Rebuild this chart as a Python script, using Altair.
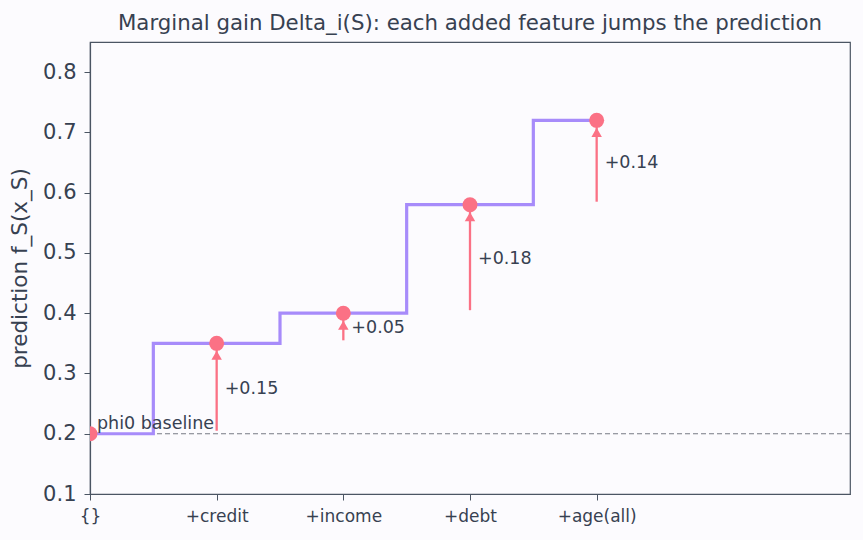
import altair as alt
import pandas as pd

steps = ["{}", "+credit", "+income", "+debt", "+age(all)"]
step_idx = [0, 1, 2, 3, 4]
preds = [0.20, 0.35, 0.40, 0.58, 0.72]
gain_idx = [1, 2, 3, 4]
gain_prev = [0.20, 0.35, 0.40, 0.58]
gain_labels = ["+0.15", "+0.05", "+0.18", "+0.14"]
baseline = 0.20
baseline_label = "phi0 baseline"

FONT = "DejaVu Sans"
TXT = "#374151"
AX = "#4b5563"
PURPLE = "#a78bfa"
ROSE = "#fb7185"

pts = pd.DataFrame({"x": step_idx, "label": steps, "y": preds})
gains = pd.DataFrame({"x": gain_idx, "prev": gain_prev,
                      "cur": preds[1:], "lab": gain_labels})
base_df = pd.DataFrame({"y": [baseline], "x": [0], "t": [baseline_label]})

label_expr = "[" + ",".join("'%s'" % s for s in steps) + "][datum.value]"

xscale = alt.Scale(domain=[0, 6], nice=False, zero=False)
yscale = alt.Scale(domain=[0.1, 0.85], nice=False, zero=False)

xax = alt.Axis(values=step_idx, labelExpr=label_expr, title=None, grid=False,
               labelFontSize=17, labelColor=TXT, domainColor=AX, tickColor=AX,
               labelFont=FONT, tickSize=6, labelPadding=8, domainWidth=1.2,
               labelFlush=False)
yax = alt.Axis(values=[0.1, 0.2, 0.3, 0.4, 0.5, 0.6, 0.7, 0.8], format=".1f",
               title="prediction f_S(x_S)", grid=False, labelFontSize=21,
               labelColor=TXT, titleColor=TXT, titleFontSize=21.5,
               titleFontWeight="normal", titleFont=FONT, labelFont=FONT,
               domainColor=AX, tickColor=AX, tickSize=6, titlePadding=11,
               labelPadding=8, domainWidth=1.2, labelFlush=False)

base = alt.Chart(pts)

dash = alt.Chart(base_df).mark_rule(color="#777b85", strokeDash=[5, 3],
                                    strokeWidth=1.2).encode(
    y=alt.Y("y:Q", scale=yscale, axis=yax))

base_txt = alt.Chart(base_df).mark_text(align="left", baseline="bottom", dx=7,
                                        dy=-1, fontSize=17.5, font=FONT,
                                        color=TXT).encode(
    x=alt.X("x:Q", scale=xscale, axis=xax), y=alt.Y("y:Q", scale=yscale),
    text="t:N")

line = base.mark_line(interpolate="step", color=PURPLE, strokeWidth=3.2).encode(
    x=alt.X("x:Q", scale=xscale, axis=xax),
    y=alt.Y("y:Q", scale=yscale, axis=yax))

arrows = alt.Chart(gains).transform_calculate(
    start="datum.prev + 0.005").mark_rule(color=ROSE, strokeWidth=2.3).encode(
    x=alt.X("x:Q", scale=xscale), y=alt.Y("start:Q", scale=yscale),
    y2="cur:Q")

heads = alt.Chart(gains).mark_point(shape="triangle-up", filled=True,
                                    opacity=1, size=110, color=ROSE,
                                    yOffset=12).encode(
    x=alt.X("x:Q", scale=xscale), y=alt.Y("cur:Q", scale=yscale))

dots = base.mark_point(filled=True, opacity=1, size=225, color=ROSE,
                       clip=True).encode(
    x=alt.X("x:Q", scale=xscale), y=alt.Y("y:Q", scale=yscale))

labels = alt.Chart(gains).transform_calculate(
    mid="(datum.prev + datum.cur) / 2").mark_text(
    align="left", baseline="middle", dx=8, fontSize=17.5, font=FONT,
    color=TXT).encode(
    x=alt.X("x:Q", scale=xscale), y=alt.Y("mid:Q", scale=yscale), text="lab:N")

chart = alt.layer(dash, line, arrows, heads, dots, labels, base_txt).properties(
    width=760, height=452,
    background="#fcfbfe",
    padding={"left": 90, "top": 42, "right": 13, "bottom": 46},
    autosize=alt.AutoSizeParams(type="none"),
    title=alt.TitleParams(
        "Marginal gain Delta_i(S): each added feature jumps the prediction",
        font=FONT, fontSize=21.3, fontWeight="normal", color=TXT,
        anchor="middle", offset=8),
).configure_view(stroke=AX, strokeWidth=1.2, fill="#fcfbfe")

chart.save("out.html", embed_options={"renderer": "svg", "actions": False})
